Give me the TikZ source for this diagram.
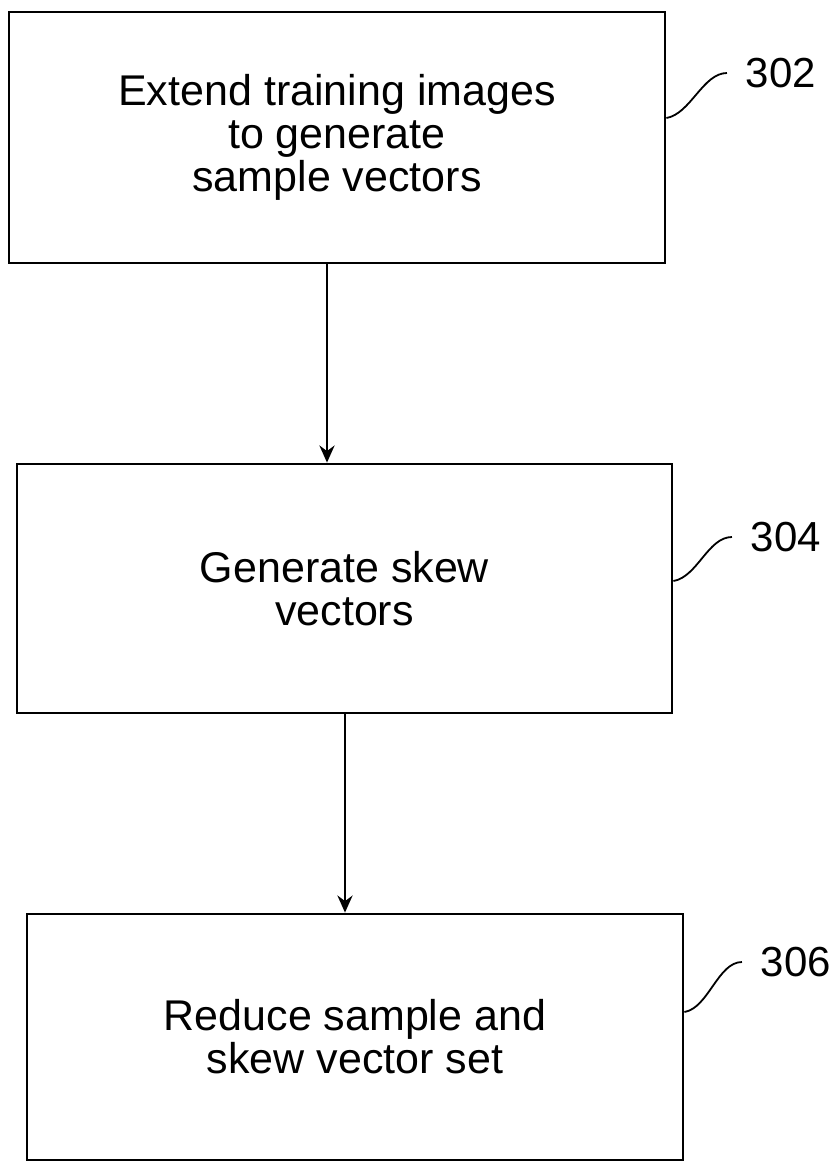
\documentclass[tikz,border=0pt]{standalone}
\usepackage{fontspec}
\setmainfont{Liberation Sans}
\usetikzlibrary{arrows.meta}
\begin{document}
\begin{tikzpicture}[x=1pt,y=-1pt,
  stepbox/.style={draw, line width=2.8pt, rectangle, align=center,
    font=\fontsize{43pt}{43pt}\selectfont},
  flow/.style={line width=2.8pt, -{Stealth[length=17pt,width=15pt]}},
  leader/.style={line width=1.8pt},
  refnum/.style={font=\fontsize{42pt}{42pt}\selectfont, inner sep=2pt, outer sep=17pt}]
\useasboundingbox (0,0) rectangle (834,1163);

% process steps
\node[stepbox, minimum width=656pt, minimum height=251pt] (s302) at (337,137.5)
  {Extend training images\\to generate\\sample vectors};
\node[stepbox, minimum width=655pt, minimum height=249pt] (s304) at (344.5,588.5)
  {Generate skew\\vectors};
\node[stepbox, minimum width=656pt, minimum height=246pt] (s306) at (355,1037)
  {Reduce sample and\\skew vector set};

% reference numerals
\node[refnum] (t302) at (781,73) {302};
\node[refnum] (t304) at (786,537) {304};
\node[refnum] (t306) at (796,962) {306};

% flow arrows
\coordinate (c1) at (327,0);
\coordinate (c2) at (345,0);
\draw[flow] (s302.south -| c1) -- (s304.north -| c1);
\draw[flow] (s304.south -| c2) -- (s306.north -| c2);

% leader lines
\draw[leader] ([yshift=19.5pt]s302.east) .. controls +(24,-4) and +(-24,0) .. (t302.west);
\draw[leader] ([yshift=7.5pt]s304.east) .. controls +(24,-4) and +(-24,0) .. (t304.west);
\draw[leader] ([yshift=25pt]s306.east) .. controls +(24,-4) and +(-24,0) .. (t306.west);
\end{tikzpicture}
\end{document}
